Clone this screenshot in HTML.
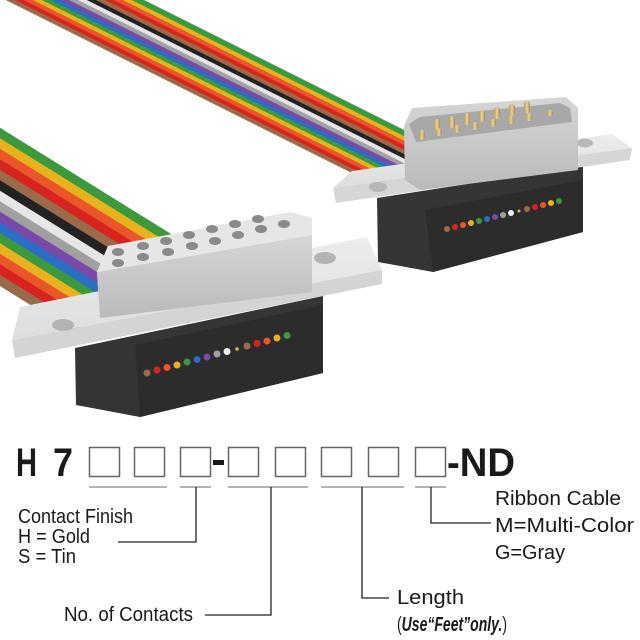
<!DOCTYPE html>
<html><head><meta charset="utf-8"><style>
html,body{margin:0;padding:0;background:#fff}
svg{display:block}
text{font-family:"Liberation Sans",Arial,sans-serif;fill:#1a1a1a}
</style></head><body>
<svg width="640" height="640" viewBox="0 0 640 640" xmlns="http://www.w3.org/2000/svg">
<defs>
<linearGradient id="shF" x1="0" y1="0" x2="0" y2="1"><stop offset="0" stop-color="#d6d6d6"/><stop offset="1" stop-color="#bababa"/></linearGradient>
<linearGradient id="flT" x1="0" y1="0" x2="0" y2="1"><stop offset="0" stop-color="#ececec"/><stop offset="1" stop-color="#dedede"/></linearGradient>
<linearGradient id="pin" x1="0" y1="0" x2="1" y2="0"><stop offset="0" stop-color="#b89a5a"/><stop offset="0.5" stop-color="#e8d49a"/><stop offset="1" stop-color="#a88a4a"/></linearGradient>
<clipPath id="cTop"><rect x="-50" y="-50" width="460" height="300"/></clipPath>
<clipPath id="cLeft"><polygon points="-50,0 120,0 175,240 108,246 97,272 100,318 15,358 -50,400"/></clipPath>
</defs>

<!-- top ribbon -->
<g stroke-width="5.6" clip-path="url(#cTop)">
<line x1="-28" y1="-20" x2="392" y2="190" stroke="#9a6b4a"/>
<line x1="-19" y1="-20" x2="401" y2="190" stroke="#d8241f"/>
<line x1="-10" y1="-20" x2="410" y2="190" stroke="#e8562a"/>
<line x1="-1" y1="-20" x2="419" y2="190" stroke="#e8b21e"/>
<line x1="8" y1="-20" x2="428" y2="190" stroke="#3c9a3c"/>
<line x1="17" y1="-20" x2="437" y2="190" stroke="#2a6fc4"/>
<line x1="26" y1="-20" x2="446" y2="190" stroke="#7a4aa8"/>
<line x1="35" y1="-20" x2="455" y2="190" stroke="#a0a0a0"/>
<line x1="44" y1="-20" x2="464" y2="190" stroke="#e6e6e6"/>
<line x1="53" y1="-20" x2="473" y2="190" stroke="#222"/>
<line x1="62" y1="-20" x2="482" y2="190" stroke="#9a6b4a"/>
<line x1="71" y1="-20" x2="491" y2="190" stroke="#d8241f"/>
<line x1="80" y1="-20" x2="500" y2="190" stroke="#e8562a"/>
<line x1="89" y1="-20" x2="509" y2="190" stroke="#e8b21e"/>
<line x1="98" y1="-20" x2="518" y2="190" stroke="#3c9a3c"/>
</g>

<!-- left ribbon -->
<g stroke-width="9.6" clip-path="url(#cLeft)">
<line x1="-20" y1="121" x2="220" y2="270" stroke="#3c9a3c"/>
<line x1="-20" y1="131.5" x2="220" y2="280.5" stroke="#e8b21e"/>
<line x1="-20" y1="142" x2="220" y2="291" stroke="#e8562a"/>
<line x1="-20" y1="152.5" x2="220" y2="301.5" stroke="#d8241f"/>
<line x1="-20" y1="163" x2="220" y2="312" stroke="#9a6b4a"/>
<line x1="-20" y1="173.5" x2="220" y2="322.5" stroke="#222"/>
<line x1="-20" y1="184" x2="220" y2="333" stroke="#e6e6e6"/>
<line x1="-20" y1="194.5" x2="220" y2="343.5" stroke="#a0a0a0"/>
<line x1="-20" y1="205" x2="220" y2="354" stroke="#7a4aa8"/>
<line x1="-20" y1="215.5" x2="220" y2="364.5" stroke="#2a6fc4"/>
<line x1="-20" y1="226" x2="220" y2="375" stroke="#3c9a3c"/>
<line x1="-20" y1="236.5" x2="220" y2="385.5" stroke="#e8b21e"/>
<line x1="-20" y1="247" x2="220" y2="396" stroke="#e8562a"/>
<line x1="-20" y1="257.5" x2="220" y2="406.5" stroke="#d8241f"/>
<line x1="-20" y1="268" x2="220" y2="417" stroke="#9a6b4a"/>
</g>

<!-- right connector -->
<polygon points="377,198 583,166 583,232 433,272 378,262" fill="#353535"/>
<polygon points="425,210 583,180 583,232 433,272" fill="#2c2c2c"/>
<g>
<circle cx="447" cy="229" r="3" fill="#9a6b4a"/><circle cx="455" cy="227" r="3" fill="#d8241f"/><circle cx="463" cy="225" r="3" fill="#e8562a"/><circle cx="471" cy="223" r="3" fill="#e8b21e"/><circle cx="479" cy="221" r="3" fill="#3c9a3c"/><circle cx="487" cy="219" r="3" fill="#2a6fc4"/><circle cx="495" cy="217" r="3" fill="#7a4aa8"/><circle cx="503" cy="215" r="3" fill="#a0a0a0"/><circle cx="511" cy="213" r="3" fill="#eee"/><circle cx="519" cy="211" r="1.5" fill="#d8b048"/><circle cx="527" cy="209" r="3" fill="#9a6b4a"/><circle cx="535" cy="207" r="3" fill="#d8241f"/><circle cx="543" cy="205" r="3" fill="#e8562a"/><circle cx="551" cy="203" r="3" fill="#e8b21e"/><circle cx="559" cy="201" r="3" fill="#3c9a3c"/>
</g>
<polygon points="333,188 352,171 612,134 632,148" fill="url(#flT)"/>
<polygon points="333,188 632,148 630,160 336,203" fill="#d6d6d6"/>
<ellipse cx="378" cy="187" rx="9" ry="5" fill="#b8b8b8"/>
<ellipse cx="585" cy="143" rx="8" ry="4.5" fill="#b8b8b8"/>
<polygon points="404,126 412,108 566,97 578,108 578,170 420,190 405,180" fill="url(#shF)"/>
<polygon points="409,124 420,117 560,103 570,108 572,122 416,142" fill="#a8a8a8"/>
<g fill="url(#pin)">
<rect x="434" y="119" width="6" height="12" rx="3"/><rect x="449" y="116" width="6" height="12" rx="3"/><rect x="464" y="113" width="6" height="12" rx="3"/><rect x="479" y="110" width="6" height="12" rx="3"/><rect x="494" y="107" width="6" height="12" rx="3"/><rect x="509" y="104" width="6" height="12" rx="3"/><rect x="524" y="101" width="6" height="12" rx="3"/><rect x="547" y="110" width="6" height="6" rx="3"/>
<rect x="419" y="130" width="6" height="10" rx="3"/><rect x="436" y="128" width="6" height="8" rx="3"/><rect x="454" y="125" width="6" height="8" rx="3"/><rect x="472" y="122" width="6" height="8" rx="3"/><rect x="490" y="119" width="6" height="8" rx="3"/><rect x="508" y="116" width="6" height="8" rx="3"/><rect x="526" y="113" width="6" height="8" rx="3"/>
</g>

<!-- left connector -->
<polygon points="75,348 323,296 323,373 140,417 76,405" fill="#353535"/>
<polygon points="135,345 323,305 323,373 140,417" fill="#2c2c2c"/>
<g>
<circle cx="147" cy="373" r="3.5" fill="#9a6b4a"/><circle cx="157" cy="370" r="3.5" fill="#d8241f"/><circle cx="167" cy="367.5" r="3.5" fill="#e8562a"/><circle cx="177" cy="365" r="3.5" fill="#e8b21e"/><circle cx="187" cy="362" r="3.5" fill="#3c9a3c"/><circle cx="197" cy="359.5" r="3.5" fill="#2a6fc4"/><circle cx="207" cy="357" r="3.5" fill="#7a4aa8"/><circle cx="217" cy="354" r="3.5" fill="#a0a0a0"/><circle cx="227" cy="351.5" r="3.5" fill="#eee"/><circle cx="237" cy="349" r="1.8" fill="#d8b048"/><circle cx="247" cy="346" r="3.5" fill="#9a6b4a"/><circle cx="257" cy="343.5" r="3.5" fill="#d8241f"/><circle cx="267" cy="341" r="3.5" fill="#e8562a"/><circle cx="277" cy="338" r="3.5" fill="#e8b21e"/><circle cx="287" cy="335.5" r="3.5" fill="#3c9a3c"/>
</g>
<polygon points="12,340 20,307 367,237 382,270" fill="url(#flT)"/>
<polygon points="12,340 382,270 382,284 15,358" fill="#d4d4d4"/>
<ellipse cx="63" cy="325" rx="11" ry="6" fill="#b4b4b4"/>
<ellipse cx="325" cy="258" rx="11" ry="6" fill="#b4b4b4"/>
<polygon points="97,272 312,235 312,292 100,318" fill="url(#shF)"/>
<polygon points="97,272 108,246 290,212 312,218 312,235" fill="#e6e6e6"/>
<g fill="#8a8a8a">
<ellipse cx="118" cy="252" rx="6" ry="4"/><ellipse cx="143" cy="246" rx="6" ry="4"/><ellipse cx="166" cy="241" rx="6" ry="4"/><ellipse cx="189" cy="235" rx="6" ry="4"/><ellipse cx="212" cy="229" rx="6" ry="4"/><ellipse cx="235" cy="224" rx="6" ry="4"/><ellipse cx="258" cy="219" rx="6" ry="4"/>
<ellipse cx="118" cy="263" rx="6" ry="4"/><ellipse cx="143" cy="257" rx="6" ry="4"/><ellipse cx="168" cy="252" rx="6" ry="4"/><ellipse cx="192" cy="246" rx="6" ry="4"/><ellipse cx="215" cy="241" rx="6" ry="4"/><ellipse cx="238" cy="235" rx="6" ry="4"/><ellipse cx="261" cy="229" rx="6" ry="4"/><ellipse cx="284" cy="224" rx="6" ry="4"/>
</g>

<!-- part number -->
<text x="16" y="476" font-size="40" font-weight="bold" textLength="21" lengthAdjust="spacingAndGlyphs">H</text>
<text x="53" y="476" font-size="40" font-weight="bold" textLength="20" lengthAdjust="spacingAndGlyphs">7</text>
<g fill="none" stroke="#666" stroke-width="1.5">
<rect x="89.5" y="447.5" width="30" height="29"/><rect x="134.5" y="447.5" width="30" height="29"/><rect x="180.5" y="447.5" width="30" height="29"/>
<rect x="228.5" y="447.5" width="30" height="29"/><rect x="275.5" y="447.5" width="30" height="29"/><rect x="321.5" y="447.5" width="30" height="29"/><rect x="368.5" y="447.5" width="30" height="29"/><rect x="415.5" y="447.5" width="30" height="29"/>
</g>
<rect x="213" y="460" width="11" height="5" fill="#1a1a1a"/>
<text x="447" y="476" font-size="40" font-weight="bold" textLength="68" lengthAdjust="spacingAndGlyphs">-ND</text>
<g stroke="#888" stroke-width="1.2">
<line x1="89" y1="487" x2="167" y2="487"/><line x1="180" y1="487" x2="211" y2="487"/><line x1="228" y1="487" x2="308" y2="487"/><line x1="321" y1="487" x2="404" y2="487"/><line x1="415" y1="487" x2="446" y2="487"/>
</g>
<g stroke="#222" stroke-width="1.3" fill="none">
<polyline points="196,487 196,542 118,542"/>
<polyline points="271,487 271,615 205,615"/>
<polyline points="362,487 362,598 389,598"/>
<polyline points="431,487 431,523 491,523"/>
</g>
<g font-size="20">
<text x="18" y="523" textLength="115" lengthAdjust="spacingAndGlyphs">Contact Finish</text>
<text x="18" y="543" textLength="72" lengthAdjust="spacingAndGlyphs">H = Gold</text>
<text x="18" y="563" textLength="58" lengthAdjust="spacingAndGlyphs">S = Tin</text>
<text x="64" y="621" textLength="129" lengthAdjust="spacingAndGlyphs">No. of Contacts</text>
<text x="397" y="604" textLength="67" lengthAdjust="spacingAndGlyphs">Length</text>
<text x="397" y="631" textLength="110" lengthAdjust="spacingAndGlyphs">(<tspan font-weight="bold" font-style="italic">Use“Feet”only.</tspan>)</text>
<text x="495" y="505" textLength="126" lengthAdjust="spacingAndGlyphs">Ribbon Cable</text>
<text x="495" y="532" textLength="139" lengthAdjust="spacingAndGlyphs">M=Multi-Color</text>
<text x="495" y="559" textLength="70" lengthAdjust="spacingAndGlyphs">G=Gray</text>
</g>
</svg>
</body></html>
